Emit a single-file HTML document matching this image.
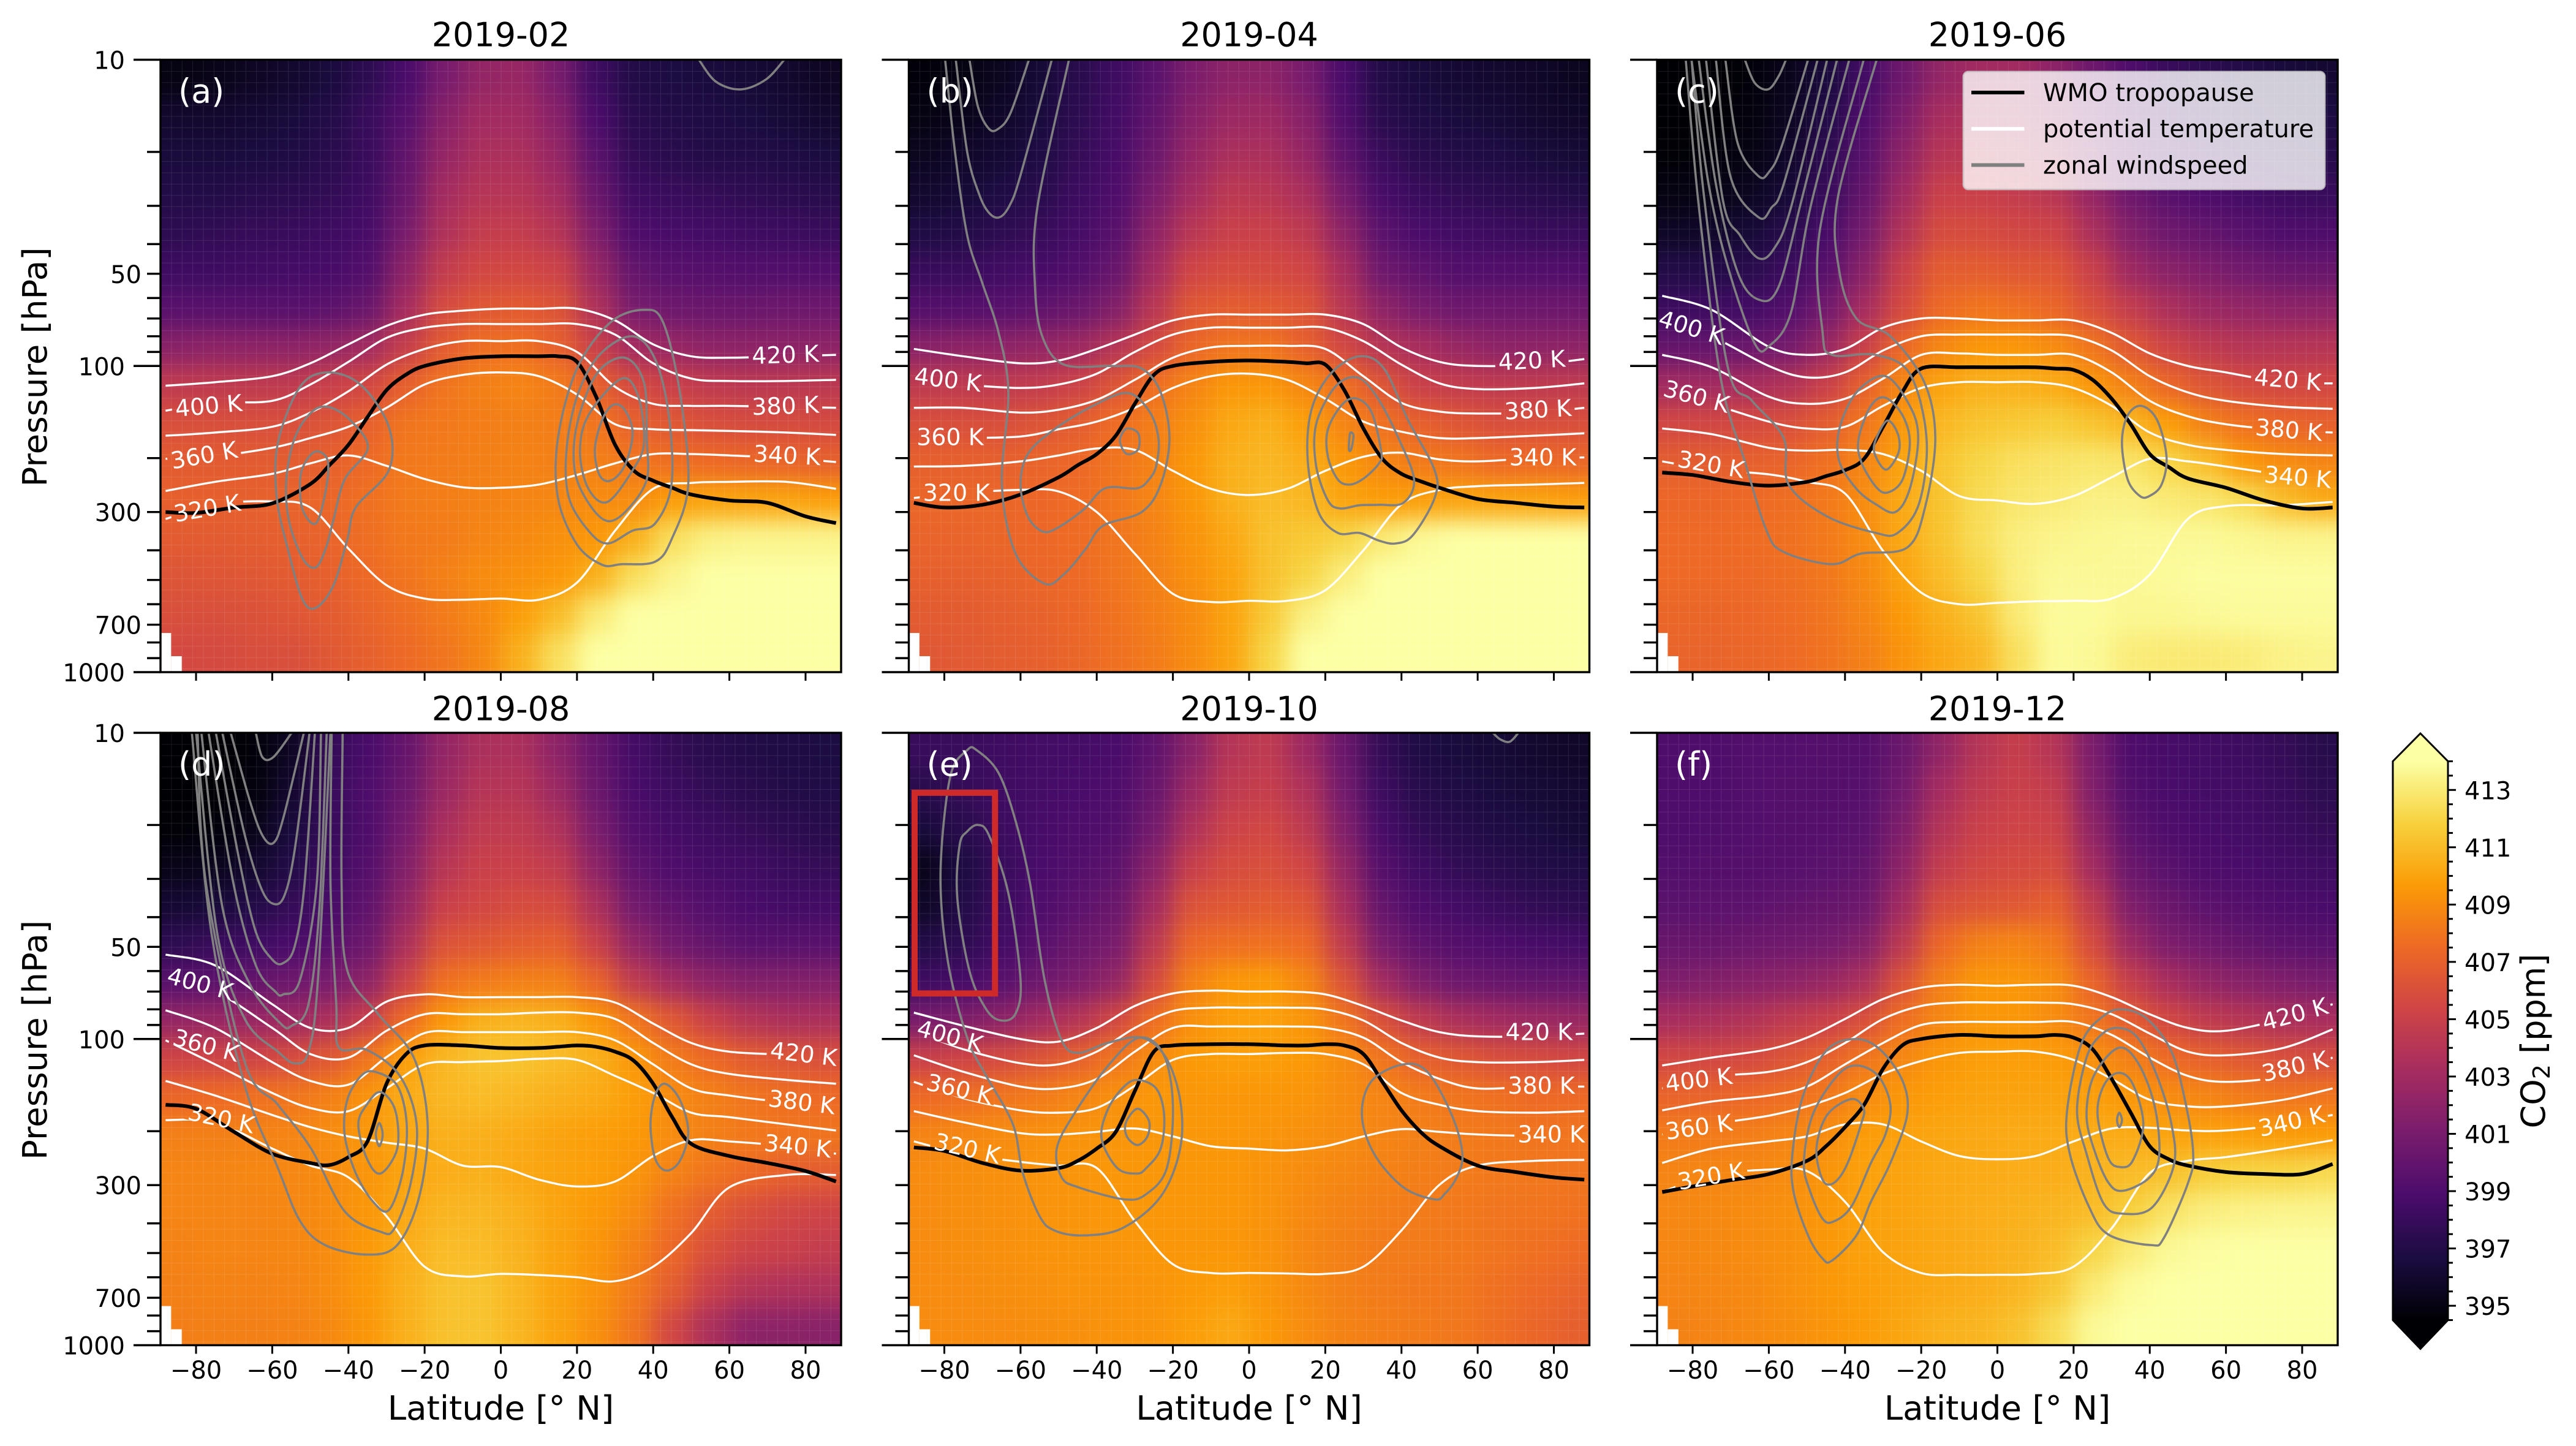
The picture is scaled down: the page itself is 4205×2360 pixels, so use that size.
<!DOCTYPE html>
<html lang="en">
<head>
<meta charset="utf-8">
<title>Zonal mean CO2 2019</title>
<style>
html,body{margin:0;padding:0;background:#fff;}
svg{display:block;font-family:"DejaVu Sans","Liberation Sans",sans-serif;}
</style>
</head>
<body>
<svg id="figure" xmlns="http://www.w3.org/2000/svg" width="4205" height="2360" viewBox="0 0 4205 2360"></svg>
<script>
/* ---------- shared axes ---------- */
const latitudes=[-85,-75,-65,-55,-45,-35,-25,-15,-5,5,15,25,35,45,55,65,75,85];
const pressureLevels=[11.5,15.4,20.5,27.4,36.5,48.7,64.9,86.6,115,154,205,274,365,487,649,866];
const latTicks=[-80,-60,-40,-20,0,20,40,60,80];
const pressureMajorTicks=[10,100,1000];
const pressureMinorTicks=[20,30,40,50,60,70,80,90,200,300,400,500,600,700,800,900];
const pressureLabelledMinor=[50,300,700];
const colorbarLabels=[395,397,399,401,403,405,407,409,411,413];
const colorbarMinorTicks=[394.5,395.5,396,396.5,397.5,398,398.5,399.5,400,400.5,401.5,402,402.5,403.5,404,404.5,405.5,406,406.5,407.5,408,408.5,409.5,410,410.5,411.5,412,412.5,413.5,414];
const thetaLats=[-88,-75,-60,-50,-40,-30,-20,-10,0,10,20,30,40,50,60,75,88];
const tropoLats=[-88,-80,-70,-60,-50,-45,-40,-35,-30,-25,-20,-10,0,10,15,20,25,30,35,40,45,50,60,70,80,88];
const missingLatEdges=[-89.33,-86.55,-83.75];
const missingPressures=[745,887];
const infernoStops=[[0,0,4],[27,12,65],[74,12,107],[120,28,109],[165,44,96],[207,68,70],[237,105,37],[251,155,6],[247,209,61],[252,255,164]];
const legendLabels=['WMO tropopause','potential temperature','zonal windspeed'];
const legendColors=['#000000','#ffffff','#808080'];

/* ---------- CO2 in ppm: rows follow pressureLevels, columns follow latitudes ---------- */
const co2Feb=[
[395,395.2,395.6,396,396.5,397.5,398.8,401,402.3,402.5,401,398.3,397,396.7,396.5,396.3,396,395.6],
[396,396,396.2,396.5,397,398,399.4,401.7,403,403,401.7,398.9,397.3,397,396.8,396.6,396.3,396],
[396.5,396.5,396.6,396.8,397.3,398,399.9,402.4,403.5,403.5,402.4,399.6,397.7,397.3,397,397,396.8,396.6],
[397,397,397.2,397.4,397.7,398.3,400.3,403.1,404,404,403.1,400.3,398.3,398,397.8,397.6,397.4,397.2],
[397.5,397.7,397.9,398,398.3,398.7,401,403.7,404.7,404.7,404,401.3,399,398.7,398.5,398.3,398.2,398],
[398.3,398.3,398.4,398.6,398.7,399.2,402,404.7,405.5,405.5,405.2,402.5,400,399.5,399.3,399.2,399.2,399.2],
[399.5,399.5,399.5,399.5,399.7,400.3,403.2,405.8,406.5,406.7,406.3,403.7,401,400.5,400.3,400.3,400.5,400.5],
[401.8,402,402,402,402.3,403,404.8,406.7,407.7,407.8,407,405,403,402.5,402,402,402,402],
[404.5,404.5,404.5,404.5,405,405.5,407,408,408.5,408.7,408.3,407,405.7,405,404.5,404.3,404.3,404.3],
[406,406,406,406,406.3,407,408,408.2,408.4,408.5,408.4,408,407,406.5,406,405.8,405.8,405.7],
[406.7,406.7,406.7,406.8,407,407.5,408.2,408.3,408.5,408.6,408.5,408.5,408,407.7,407.5,407.3,407.2,407],
[407,407,407,407.2,407.3,407.8,408.3,408.4,408.6,408.7,408.8,409,409,409.7,410,410,410,409.8],
[406.7,406.7,406.8,407,407.2,407.7,408.2,408.3,408.7,408.9,409.2,409.5,410.5,412.5,413.3,413.5,413.5,413.5],
[406.3,406.4,406.5,406.7,407,407.5,408,408.5,409,409.2,409.5,410.5,412.5,413.5,414,414,414,414],
[406,406,406.1,406.4,406.7,407.2,407.7,408.3,408.9,409.8,411,413,414,414,414,414,414,414],
[405.6,405.7,405.9,406,406.5,407,407.5,408,408.8,410.5,412.5,414,414,414,414,414,414,414]];
const co2Apr=[
[394.7,395,395.5,396.3,397.3,398.3,399.6,401.2,402,402,401,398.8,397,396.5,396.2,396,395.8,395.5],
[395,395.3,395.8,396.5,397.5,398.5,399.9,401.7,402.7,402.8,401.7,399.1,397.3,396.8,396.5,396.3,396,395.8],
[395.5,395.8,396.2,396.8,397.8,398.7,400.4,402.4,403.5,403.5,402.4,399.8,398,397.3,397,396.8,396.5,396.3],
[396,396.3,396.8,397.3,398.2,399,401.1,403.1,404.3,404.2,403.4,400.8,398.7,398,397.7,397.4,397.2,397],
[396.8,397,397.5,397.9,398.6,399.5,402,404.2,405,405,404.4,402,399.6,398.8,398.4,398.2,398,398],
[398,398,398.4,398.7,399.2,400.2,403,405.4,405.8,405.7,405.4,403.3,400.5,399.8,399.2,399.2,399.2,399.2],
[399.3,399.3,399.5,399.8,400.3,401.5,404.2,406.5,406.8,406.7,406.3,404.2,402,401,400.5,400.5,400.5,400.5],
[401.8,402,402,402.3,402.8,404,405.7,407.3,408,408,407,405.5,404,403.3,402.5,402,402,402],
[404.5,404.5,404.5,404.7,405.2,406.3,407.7,408.7,409.5,409.5,408.8,407.7,406.3,405,404.7,404.5,404.5,404.5],
[406,406,406,406.3,406.8,407.6,408.4,409.2,410.2,410.5,409.8,408.7,407.8,407,406.4,406,406,406],
[407,407,407,407.2,407.4,408,408.6,409.5,410.5,410.8,410.4,409.5,408.8,408.2,408,407.5,407.5,407.3],
[407.3,407.3,407.3,407.4,407.6,408.1,408.7,409.5,410.5,411,410.8,410,409.7,409.8,410,410,410,409.8],
[407.2,407.2,407.3,407.4,407.6,408,408.6,409.3,410.2,411.2,411.5,412,413,413.7,414,414,414,414],
[407,407,407.1,407.3,407.5,408,408.5,409.2,410,411.2,412,413.2,414,414,414,414,414,414],
[406.7,406.7,406.9,407.1,407.4,407.9,408.4,409,410,411.5,413.3,414,414,414,414,414,414,414],
[406.5,406.6,406.8,407,407.3,407.8,408.3,409,410,412,414,414,414,414,414,414,414,414]];
const co2Jun=[
[394.5,394.5,394.7,395.3,396.5,398.5,400.5,402.3,403,403,402,400.5,399,398,397.5,397,396.5,396.2],
[394.5,394.5,394.8,395.5,397,399,401.2,403.3,403.7,403.5,402.6,401,399.3,398.3,397.8,397.3,397,396.7],
[394.6,394.7,395,395.8,397.5,399.5,402,404.1,404.3,404,403.4,401.6,399.8,398.8,398.3,397.8,397.5,397.2],
[395,395.1,395.5,396.3,398,400,402.9,405,405,404.7,404.2,402.4,400.5,399.5,399,398.5,398.2,398],
[395.7,395.8,396.3,397.2,398.7,400.8,403.8,405.8,405.8,405.5,405.3,403.5,401.5,400.5,400,399.5,399,399],
[397,397,397.3,398.2,399.5,401.8,405,406.8,406.8,406.5,406.4,405,402.8,401.8,401.3,400.7,400.3,400.2],
[398.2,398.3,398.5,399.2,400.7,403.2,405.7,407.5,408,407.8,407.3,406,404.7,403.5,402.7,402.3,402,402],
[400,400,400.3,400.8,402.5,405,407.3,408.8,409.5,409.5,409,408,406.5,405.3,404.5,404,404,404],
[403,403,403.3,403.8,405,407,408.8,410,410.5,410.5,410.3,409.5,408.5,407.3,406.3,405.7,405.5,405.5],
[405.5,405.5,405.7,406,406.8,408,409.5,410.8,411.3,411.5,411.7,411.3,410.7,409.7,408.5,407.8,407.3,407],
[406.8,406.8,407,407.2,407.8,408.7,410,411.3,412,412.5,412.7,412.8,412.7,412,411,409.5,409,408.7],
[407.4,407.4,407.5,407.7,408.2,409,410.2,411.3,412.3,412.8,413,413.3,413.3,413,412.8,412.3,411,410.3],
[407.5,407.5,407.6,407.8,408.2,409,410.2,411.3,412.4,413.2,413.5,413.6,413.7,413.7,413.7,413.6,413.5,413.5],
[407.5,407.5,407.5,407.7,408.1,408.9,410,411,412,413.2,413.7,413.7,413.7,413.8,413.9,413.9,413.9,413.9],
[407.3,407.3,407.4,407.6,408,408.7,409.6,410.5,411.3,413,413.8,413.8,413.6,413.6,413.7,413.8,413.8,413.8],
[407.2,407.2,407.3,407.5,407.9,408.5,409.3,410.2,410.8,412.5,413.8,413.7,413.1,413,413,413.1,413.4,413.5]];
const co2Aug=[
[394.5,394.5,394.7,395.6,397.8,398.8,400.1,402.3,403.5,403.5,402,400.1,398.6,397.8,397.3,397,396.8,396.7],
[394.5,394.5,394.8,396,398,399,400.4,402.7,404,404,402.7,400.4,398.8,398.2,397.7,397.3,397,396.9],
[394.6,394.7,395.2,396.5,398,399,400.9,403.4,404.5,404.5,403.7,401.1,399.2,398.6,398.2,397.8,397.5,397.2],
[395.2,395.4,396,397,398.3,399.3,401.5,404.1,405,405,404.6,402,399.8,399,398.6,398.4,398,397.8],
[396.2,396.4,397,397.8,398.7,399.8,402.3,405,405.5,405.8,405.7,403.5,400.7,399.8,399.2,398.8,398.5,398.5],
[397.5,398,398.3,398.8,399.5,400.5,403.5,406.2,406.5,406.8,406.9,405,402.2,400.7,400,399.5,399.5,399.5],
[399.5,399.7,400,400.5,401,402,405.2,407.8,408.3,408.5,408.5,407.2,404.5,403,402,401.5,401.5,401.5],
[402.3,402.5,402.5,402.8,403.5,405,407.5,409.5,410.5,410.7,410.5,409.5,408,406.5,405,404,403.5,403.5],
[405.3,405.3,405.3,405.8,406.5,408,409.8,410.8,411.3,411.3,411,410.5,409.5,408.3,407.5,406.7,406.3,406],
[407.3,407.5,407.8,408,408.5,409.3,410.3,410.8,411,410.8,410.5,410.3,409.8,409,408.5,408,407.7,407.5],
[408.5,408.5,408.6,408.7,409,409.5,410.2,410.5,410.5,410.3,410,409.8,409.6,409,408.5,408.2,408,408],
[408.7,408.7,408.8,408.8,409,409.4,410,410.4,410.5,410.2,410,409.8,409.4,408.6,408,407.5,407,406.8],
[408.7,408.7,408.7,408.8,409,409.5,410.2,410.7,410.8,410.5,410,409.6,409,407.8,406.8,406,405.5,405.3],
[408.6,408.7,408.7,408.8,409,409.6,410.4,411,411,410.6,410,409.4,408.6,407.4,406,405.3,405,404.7],
[408.5,408.6,408.6,408.7,409,409.6,410.5,411.2,411.3,410.7,410,409.3,408.3,406.8,405,404,403.7,403.7],
[408.4,408.5,408.5,408.6,408.9,409.5,410.5,411.2,411.3,410.7,410,409.2,408,405.5,403.5,402,402,401.8]];
const co2Oct=[
[398,398,398.3,398.5,398.6,398.8,399.8,401.8,404,404.5,402.8,400.3,397.8,396.8,396.5,396.3,396,395.8],
[397.3,397.8,398.3,398.6,398.8,399,400.2,402.7,404.5,404.8,403.7,400.7,398.2,397.2,396.8,396.5,396.3,396.1],
[396.5,397.3,398.2,398.7,399,399.2,400.8,403.7,405.2,405.5,404.4,401.4,398.7,397.7,397.2,396.8,396.6,396.3],
[395.3,396.7,398,398.8,399.2,399.7,401.8,404.9,405.8,406,405.4,402.3,399.3,398.3,397.7,397.3,397,396.8],
[395.7,397,398.2,399,399.7,400.3,403,406.2,406.5,406.7,406.4,403.3,400,399,398.5,398,397.7,397.5],
[397,397.5,398.5,399.5,400.3,401,404.3,407.4,407.7,407.8,407.5,404.5,401,399.8,399.3,399,398.7,398.5],
[398.3,398.7,399.5,400.5,401.2,402.3,405.7,408.6,409.5,409.7,408.8,406.2,403,401.3,400.5,400.2,400,400],
[401,401.3,402,403,404,405.5,407.7,409.2,409.8,409.9,409.4,408,406,404.5,403.5,403,402.7,402.5],
[405,405.3,405.7,406.3,407,408,409,409.6,409.8,409.8,409.6,409,408,407,406.5,406,405.8,405.5],
[407.5,407.7,408,408.3,408.7,409.2,409.5,409.5,409.5,409.5,409.4,409,408.7,408.3,408,407.8,407.5,407.5],
[408.7,408.8,409,409.2,409.3,409.4,409.5,409.5,409.5,409.4,409.2,409,408.7,408.5,408.3,408.2,408,408],
[409,409.1,409.2,409.3,409.4,409.5,409.5,409.5,409.5,409.3,409,408.8,408.6,408.4,408.3,408.2,408.1,408],
[409,409.1,409.2,409.3,409.4,409.5,409.5,409.5,409.5,409.3,408.9,408.6,408.4,408.3,408.2,408,408,407.9],
[409,409.1,409.2,409.3,409.4,409.4,409.5,409.5,409.5,409.3,408.8,408.5,408.3,408.3,408.2,408,407.8,407.6],
[409,409,409.1,409.2,409.3,409.3,409.4,409.6,409.8,409.4,408.9,408.5,408.3,408.2,408.1,407.8,407.5,407.2],
[409,409,409,409.1,409.2,409.3,409.4,409.8,410.2,409.6,409,408.6,408.4,408.3,408.1,407.7,407.3,407]];
const co2Dec=[
[399,399,399.2,399.2,399.3,399.3,400.3,402.2,404,404.8,404,401.1,399,398.7,398.5,398.2,397.8,397.2],
[399,399,399.2,399.3,399.3,399.4,400.7,403.2,404.5,405,404.7,401.4,399.2,398.8,398.6,398.4,398,397.5],
[399,399.1,399.2,399.3,399.4,399.6,401.3,403.9,405,405.3,405.2,402.1,399.7,399,398.8,398.5,398.2,397.8],
[399.2,399.3,399.3,399.4,399.6,399.9,402,404.7,405.5,405.7,405.8,403,400.3,399.5,399,398.8,398.5,398.3],
[399.6,399.7,399.7,399.9,400.1,400.5,403,405.9,406.3,406.5,406.9,404.5,401.3,400.3,399.7,399.3,399,398.8],
[400.2,400.2,400.4,400.6,400.8,401.5,404.3,407.4,408.5,408.7,408.2,405.7,402.7,401.2,400.6,400,399.7,399.5],
[401.3,401.5,401.7,402,402.5,403.5,406.2,408.5,409.5,409.5,409.1,407.2,404.8,403.3,402.3,401.7,401.3,401],
[403.3,403.5,403.8,404.5,405,406,407.7,408.8,409.5,409.5,409,408,406.7,405.5,404.5,404,403.5,403.3],
[405.5,405.5,405.7,406.3,407,408,408.8,409.5,409.8,409.8,409.7,409.2,408.5,407.5,407,406.5,406,405.8],
[407.2,407.2,407.4,407.7,408.2,409,409.5,409.8,410,410,410,409.8,409.5,409,408.7,408.3,408,408],
[408.3,408.3,408.4,408.7,409,409.7,409.9,410.1,410.2,410.3,410.3,410.3,410.3,410,409.9,409.8,409.7,409.7],
[408.7,408.8,408.8,409,409.4,409.9,410,410.2,410.3,410.4,410.4,410.6,411,411.2,411.7,412,412,412.2],
[408.8,408.9,409,409.2,409.5,409.9,410,410.2,410.4,410.5,410.7,411,411.8,412.7,413.2,413.4,413.5,413.5],
[408.8,408.9,409,409.2,409.5,409.9,410,410.2,410.4,410.6,411,412,413,413.7,413.9,414,414,414],
[408.7,408.8,408.9,409.2,409.5,409.8,410,410.2,410.4,410.7,411.4,413,413.8,414,414,414,414,414],
[408.6,408.7,408.9,409.1,409.4,409.7,410.1,410.5,410.7,411.2,412.3,413.7,414,414,414,414,414,414]];

/* ---------- potential temperature isolines: pressure (hPa) at thetaLats, levels 420..320 K ---------- */
const thetaFeb=[
[116,113,108,98,85,74,68,66,65,65,65,71,85,93,94,93,92],
[140,132,130,115,97,81,75,73,73,73,73,79,98,110,112,112,111],
[169,165,158,142,121,99,88,83,83,83,90,117,133,135,135,136,137],
[201,197,185,172,158,137,115,107,105,108,124,155,161,162,163,165,168],
[256,239,225,208,196,212,234,249,250,244,227,208,194,194,196,200,206],
[316,283,277,290,395,520,575,580,575,580,510,345,252,241,239,239,252]];
const thetaApr=[
[88,93,98,96,88,79,71,68,68,68,68,73,87,97,100,99,95],
[110,115,118,115,106,90,79,75,75,75,75,83,99,114,119,118,114],
[137,137,142,139,129,111,94,87,86,86,88,108,132,141,143,142,137],
[172,172,170,161,152,137,118,108,106,111,128,152,164,172,172,169,166],
[213,212,205,196,186,188,220,252,264,252,220,198,192,202,205,200,199],
[270,260,254,257,300,410,555,590,585,585,540,400,283,254,247,244,241]];
const thetaJun=[
[59,65.6,86.6,92,88,75,70,70,71,71,71,78,91,100,105,113,114],
[69,80,100,109,105,89,80,79,79,79,80,89,108,122,130,136,138],
[92,101,126,133,128,110,92,91,92,92,92,105,130,146,155,162,165],
[119,133,152,160,158,135,118,113,113,113,118,135,165,181,188,194,196],
[160,167,185,189,188,194,220,266,275,282,266,231,201,205,213,227,238],
[205,218,226,239,261,402,550,600,594,587,585,575,480,316,287,285,278]];
const thetaAug=[
[53,57.5,77,92,92,75.5,71.5,73,73,73,73,76,89,103,110,113,119],
[64,70,92,112,115,94,83,83,83,82,82,86,103,121,130,136,140],
[80.6,92,119,137,141,114.6,95.6,95,95,95,95,101,121,145,153,161,166],
[101,121,150,168,172,145,121,119,118,116,117,132,150,174,180,190,199],
[137,153,177,194,208,218,228,259,262,288,303,292,241,214,216,224,237],
[184,187,228,259,283,379,554,596,585,590,600,618,554,430,305,278,278]];
const thetaOct=[
[82,90.5,100,102,92,78,71,69.5,70,70,71.5,78,87,95,98,98,96],
[94,108,120,121,110,92,81,79,79,79,80,87,103,115,119,119,117],
[113,128,143,145,135,110,92,91,91,91,92,99,119,135,145,143,143],
[138,156,171,174,168,142,117,112,112,111,112,121,150,164,172,174,172],
[172,187,203,205,201,196,208,224,228,231,224,208,197,201,205,207,205],
[216,237,252,259,264,393,544,581,581,583,585,554,422,299,259,250,248]];
const thetaDec=[
[122,115,108,99,86,74,68,66.5,67,66.5,67,73,83,92,94,86,77],
[145,133,128,119,103,86,78,76,76,76,77,83,96,110,113,107,93],
[171,160,153,143,121,103,90,88,88,88,88,97,115,132,138,132,115],
[205,190,178,166,150,130,118,111,110,110,117,135,158,166,166,158,145],
[254,228,216,208,190,190,216,241,247,241,216,196,195,199,199,190,177],
[316,278,267,270,340,497,581,589,589,585,554,415,274,250,243,228,214]];

/* ---------- WMO tropopause: pressure (hPa) at tropoLats ---------- */
const tropoFeb=[300,302,290,281,243,211,181,147,120,107,100,94.5,93,93,93,97,126,181,220,237,250,263,275,280,310,326];
const tropoApr=[280,290,284,263,231,211,194,169,133,107,100,97,96,97,98,99,120,160,201,225,238,250,272,280,288,290];
const tropoJun=[223,227,239,246,239,229,219,201,158,122,102,101,101,101,102,103,111,128,155,194,214,233,250,275,292,290];
const tropoAug=[164,169,201,237,254,258,243,216,140,112.5,105,105,107,107,106,105,106,110,118,140,180,220,241,254,270,292];
const tropoOct=[226,232,254,269,264,250,228,201,148,110,105,104,104,105,105,104,105,112,138,171,201,224,259,272,283,288];
const tropoDec=[316,303,289,276,250,224,194,164,125,105,100,97,98,98,97,99,108,135,174,224,247,259,272,276,276,256];

/* ---------- zonal wind contours: each entry is [latitudes, pressures (hPa)] ---------- */
const windFeb=[
[[52,56.5,63,69.6,74.4],[10,11.8,12.5,11.6,10]],
[[-45.4,-36.7,-29.4,-29.4,-38.1,-40.3,-44,-48.6,-52,-55.6,-58.8,-58.5,-52.7],[105,115.5,158,219,290,369,523,617,580,410,270,178,117]],
[[-45.4,-39.6,-34.9,-41,-44,-46,-48.6,-52,-55.6,-56.3,-54.1,-49.8],[136,150,185,235,321,396,455,425,321,235,172,142]],
[[-48.3,-45.4,-46.1,-48.6,-52,-52.7,-51.2],[190,205,261,327,295,235,205]],
[[37.6,42.6,47,49.2,44.8,40.5,31.7,26.6,20,15,15,20,28.8],[65.6,72,122,244,369,436,444,446,383,270,172,102,72]],
[[34.6,40.5,44.1,44.8,40.5,34.6,28,23,17.9,17.2,20,25.9],[80,95,145,244,327,345,380,345,270,191,126,92]],
[[32.5,37.6,38.3,38.3,33.2,28,23,19.4,20,25.2],[94,113.5,172,235,295,321,280,219,155,106]],
[[31.7,36.1,37.6,34.6,28,23,20.8,23],[110,126,178,219,278,252,191,145]],
[[29.5,32.5,34.6,32.5,28.8,25.9,24.7,26.6],[134,139,166,212,237,227,187,150]]];
const windApr=[
[[-73.4,-71.2,-68.3,-65.8,-62.6,-57.8],[10,14.2,16.8,16.8,14.9,10]],
[[-77,-74,-70.9,-68.3,-65.5,-62.8,-60,-51.8],[10,20,27.4,31.6,32.7,29.8,23.8,10]],
[[-79.8,-77.2,-74,-70.2,-65.8,-63.2,-64.9,-61.3,-53.7,-48.6,-42.9,-38.4,-28.2,-23.2,-20.9,-23.2,-28.2,-35.9,-48.6,-54.3,-56.2,-55.6,-47.3],[10,20,37.4,52.9,77.5,122,244,410,514,479,396,333,300,244,172,122,102,100,99,80,55,30.4,10]],
[[-32,-26.3,-23.8,-24.4,-26.3,-29.5,-37.8,-43.5,-50.5,-54.3,-58.1,-60,-58.1,-51.1,-41],[122.5,140,172,212,235,251,251,295,339,347,310,244,194,161,135]],
[[-32,-29.1,-29.1,-32,-33.7,-33.7],[160,166,187,194,181,170]],
[[29,35.4,41.7,48.7,48.7,43,38.5,34.1,29,23.3,18.2,15.4,16.3,21.4],[93,102,150,219,270,357,380,372,351,351,300,205,140,106]],
[[28.4,33.5,39.2,43.3,40.5,34.1,29,23.9,20.7,17.6,17.6,22.6],[109,126,172,235,280,284,285,292,275,212,155,117]],
[[28.4,32.2,34.7,34.1,30.3,26.5,23.3,20.7,20.7,24.6],[128,142,191,208,232,244,235,198,161,133]],
[[26.5,27.4,26.8,26.2],[166,169,187,187]]];
const windJun=[
[[-66.3,-63.7,-60.2,-57.4,-55.5],[10,11.9,12.5,11.3,10]],
[[-71.4,-68.2,-62.7,-59.9,-56.7,-49.7],[10,18.7,24,23.2,19.3,10]],
[[-73.9,-70.1,-62.7,-59.3,-56.1,-47.2],[10,24,32.7,30.4,25.5,10]],
[[-76.5,-72,-67.6,-62.7,-58.7,-54.2,-44.7],[10,29,37.4,44.5,41.5,30.4,10]],
[[-78.4,-73.9,-68.2,-62.7,-57.4,-51,-42.1],[10,25.5,49.4,60.7,55,27.4,10]],
[[-80.3,-75.8,-70.7,-63.7,-59.9,-54.2,-49.1,-38.9],[10,25.5,47.7,84.5,86,67,30.4,10]],
[[-81.8,-78.4,-72.6,-66.3,-60.6,-56.1,-43.4,-35.8,-23.7,-19,-16.3,-19.2,-28.1,-37,-41.5,-41.9,-31.7],[10,30,110,205,345,405,444,410,392,290,172,113,80,70,49,28.3,10]],
[[-80.3,-77.1,-70.7,-64.4,-56.1,-54.8,-44.7,-31.9,-26.2,-20.5,-18.6,-23,-31.9,-43.4,-45.9,-46.6,-35.1],[10,27.4,102,130,172,244,310,351,351,280,172,106,92,92,77.5,36,10]],
[[-29.4,-23,-20.8,-23,-26.8,-31.9,-37,-41.5,-41.5,-37],[108,135,172,252,300,283,252,205,161,122]],
[[-29.4,-24.9,-23,-24.9,-28.8,-31.9,-35.8,-36.4,-33.2],[127,145,178,235,259,248,205,172,135]],
[[-29,-26.2,-25.9,-29.1,-31.9,-32.2],[151,166,191,218,198,178]],
[[37.8,41.9,44.4,43.1,39.9,37.4,34.2,32.7,34.2],[135,150,198,244,266,266,235,178,145]]];
const windAug=[
[[-64.3,-62.6,-59.7,-54.9],[10,12,12,10]],
[[-70.9,-65.8,-62.6,-59.7,-57.1,-51.7],[10,16.8,21.6,22.9,19,10]],
[[-73.1,-67.2,-62.9,-59.7,-56.8,-54.1,-50.2],[10,21.6,32.2,36.2,34,24.1,10]],
[[-74.8,-68.7,-64.3,-60,-57.1,-54.1,-51.5,-48.8],[10,25.9,44.7,55,56.5,49.8,31,10]],
[[-76.7,-70.2,-64.3,-59.2,-57.1,-52.7,-48.3,-47.2],[10,31,57.5,70,71.5,64,31,10]],
[[-78.6,-73.1,-65.8,-57.8,-54.9,-50.5,-47.6,-45.7],[10,37,66.5,89,90.5,77,37,10]],
[[-80,-74.5,-67.2,-58.5,-54.1,-50.5,-48,-44.7],[10,44.7,86,110,120,110,64,10]],
[[-41.5,-41.8,-40.3,-32.3,-22.9,-19.2,-21.4,-27.2,-35.2,-46.1,-52.7,-58.5,-67.2,-76,-81.1],[10,31,59.7,82.6,114.6,190,327,471,506,471,393,264,142,44.7,10]],
[[-44.4,-44.7,-43.2,-42.5,-35.2,-26.5,-22.1,-23.6,-27.9,-31.6,-41,-49.8,-58.5,-67.2,-77.4,-79.6],[10,31,77,106.7,108.5,132,190,294,415,426,365,228,164,119,31,10]],
[[-33,-27.2,-24.7,-25.8,-29.4,-33.5,-38.1,-41,-40.3,-36.7],[128,142,190,274,362,340,274,205,158,132]],
[[-31.6,-27.7,-27.2,-31.6,-35.2,-37.4,-35.2],[149,171,228,275,245,190,164]],
[[-31.9,-31,-31.9,-32.8],[188,205,224,205]],
[[43.1,47,49.2,47,43.4,40.5,39.3,40.5],[140,158,201,250,269,245,190,153]]];
const windOct=[
[[64,65.9,68.4,70.7],[10,10.5,10.7,10]],
[[-74,-78.5,-81,-79.1,-74,-69,-62,-59.4,-55,-51.1,-43.5,-33.3,-23.2,-18.1,-18.1,-21.9,-28.2,-37.2,-44.8,-49.2,-53.7,-57.5,-61.3,-65.8,-71.5],[11.4,14,28.9,55.5,99,132,190,274,379,422,438,415,327,228,158,114.6,99,103,111,101,64,31,19.4,13.5,11.4]],
[[-71.2,-68.3,-63.2,-60,-61.3,-65.1,-69,-73.4,-76.6,-76,-74],[20,21.6,33.4,64,82.6,87,80,60,34.7,23.3,21]],
[[-28.9,-22.5,-20,-21.6,-27,-32.7,-44.8,-49.2,-50.5,-46.1,-37.2],[99,112,164,264,321,334,305,283,228,177,123]],
[[-29.5,-24.4,-22.3,-23.2,-27,-29.5,-34.6,-38.7,-37.2,-33.3],[136,145,177,228,264,275,264,212,171,145]],
[[-29.3,-26.3,-26.7,-29.3,-32.1,-32.3],[169,185,208,222,208,187]],
[[40.5,46.8,53.2,56,54.5,51.3,48.7,40.5,32.8,29.6,32.2],[121,128,177,237,283,321,334,305,237,177,137]]];
const windDec=[
[[-37,-30.7,-24.9,-23.7,-28.1,-33.2,-37,-43.4,-45.9,-49.7,-53.5,-53.8,-51,-44.7],[100,108.5,137,177,254,340,438,529,521,438,316,237,153,108.5]],
[[-37,-31.3,-28.1,-29.4,-33.2,-38.3,-43.1,-45.9,-49.1,-50.8,-48.5,-42.1],[122,132,164,205,254,352,395,386,316,254,177,132]],
[[-38.3,-35.1,-35.8,-39.6,-43.1,-45.9,-47.5,-44.7],[157,169,190,259,296,288,228,177]],
[[33,39.3,45.7,49.5,51.4,50.1,43.8,40.3,29.1,24,19,18.3,22.1,27.9],[80,86,110,164,237,294,444,471,435,352,237,171,103,84]],
[[31.7,36.8,41.9,45.7,46.3,40.6,33,27.9,23.4,20.9,23.4,27.2],[92,99,132,190,259,355,372,345,237,171,115,97]],
[[31.7,36.8,41.2,42.5,40,33,29.1,25.3,23.4,25.3],[107,119,164,237,283,313,294,228,177,132]],
[[31.7,35.5,38.3,35.5,32.3,29.1,26.3,27.9],[129,140,190,250,262,245,177,142]],
[[32,32.7,32,31.4],[174,184,194,184]]];

/* ---------- isoline labels: text, latitude, pressure, rotation (deg) ---------- */
const labelsFeb=[['400 K',-76.7,135,-5],['360 K',-77.9,196,-10],['320 K',-77.1,292,-10],['420 K',74.7,92,-2],['380 K',74.7,135,-2],['340 K',75.1,196,3]];
const labelsApr=[['400 K',-79.1,111,7],['360 K',-78.5,171,0],['320 K',-76.8,260,0],['420 K',74.2,96,-3],['380 K',75.8,139,-3],['340 K',77.1,199,0]];
const labelsJun=[['400 K',-80.3,75,17],['360 K',-79,126,15],['320 K',-75.2,210,10],['420 K',76.2,111,5],['380 K',76.5,162,5],['340 K',78.8,231,5]];
const labelsAug=[['400 K',-78.9,66,15],['360 K',-77.4,105,15],['320 K',-73.4,182,12],['420 K',79.5,112,7],['380 K',79,161,7],['340 K',77.9,224,6]];
const labelsOct=[['400 K',-78.5,98,15],['360 K',-76,146,13],['320 K',-74,228,13],['420 K',76.1,95,0],['380 K',76.7,142,0],['340 K',79.3,205,0]];
const labelsDec=[['400 K',-78.4,136,-7],['360 K',-78.4,194,-8],['320 K',-75.2,281,-10],['420 K',78.1,83,-15],['380 K',78.1,123,-13],['340 K',77.2,186,-13]];
const studyBoxLats=[-87.8,-66.7];
const studyBoxPressures=[15.7,71];

const titles=['2019-02','2019-04','2019-06','2019-08','2019-10','2019-12'];
const letters=['(a)','(b)','(c)','(d)','(e)','(f)'];
const co2Sets=[co2Feb,co2Apr,co2Jun,co2Aug,co2Oct,co2Dec];
const thetaSets=[thetaFeb,thetaApr,thetaJun,thetaAug,thetaOct,thetaDec];
const tropoSets=[tropoFeb,tropoApr,tropoJun,tropoAug,tropoOct,tropoDec];
const windSets=[windFeb,windApr,windJun,windAug,windOct,windDec];
const labelSets=[labelsFeb,labelsApr,labelsJun,labelsAug,labelsOct,labelsDec];

/* ---------- helpers ---------- */
const NS='http://www.w3.org/2000/svg';
const svg=document.getElementById('figure');
const plotW=1111, plotH=999.5, latMin=-89.33, latMax=89.33, cmin=394.5, cmax=414;
const panelLefts=[262,1483.5,2705], panelTops=[97.5,1196];
function el(tag,attrs,parent){
  const n=document.createElementNS(NS,tag);
  for(const k in attrs){n.setAttribute(k,attrs[k]);}
  if(parent){parent.appendChild(n);}
  return n;
}
function xScale(left,lat){return left+(lat-latMin)/(latMax-latMin)*plotW;}
function yScale(top,p){return top+(Math.log10(p)-1)/2*plotH;}
function inferno(v){
  const t=Math.max(0,Math.min(1,(v-cmin)/(cmax-cmin)))*(infernoStops.length-1);
  const i=Math.min(infernoStops.length-2,Math.floor(t)),f=t-i;
  const a=infernoStops[i],b=infernoStops[i+1];
  return 'rgb('+[0,1,2].map(c=>Math.round(a[c]+(b[c]-a[c])*f)).join(',')+')';
}
function smoothPath(pts,closed){
  const n=pts.length;
  const at=i=>closed?pts[(i+n)%n]:pts[Math.max(0,Math.min(n-1,i))];
  let d='M'+pts[0][0].toFixed(1)+' '+pts[0][1].toFixed(1);
  const segs=closed?n:n-1;
  for(let i=0;i<segs;i++){
    const p0=at(i-1),p1=at(i),p2=at(i+1),p3=at(i+2);
    const c1=[p1[0]+(p2[0]-p0[0])/6,p1[1]+(p2[1]-p0[1])/6];
    const c2=[p2[0]-(p3[0]-p1[0])/6,p2[1]-(p3[1]-p1[1])/6];
    d+='C'+c1[0].toFixed(1)+' '+c1[1].toFixed(1)+' '+c2[0].toFixed(1)+' '+c2[1].toFixed(1)+' '+p2[0].toFixed(1)+' '+p2[1].toFixed(1);
  }
  return d+(closed?'Z':'');
}
const defs=el('defs',{},svg);
const blur=el('filter',{id:'cell-blur',filterUnits:'userSpaceOnUse',x:0,y:0,width:4205,height:2360,'color-interpolation-filters':'sRGB'},defs);
el('feGaussianBlur',{stdDeviation:19},blur);

/* ---------- panels ---------- */
titles.forEach(function(title,idx){
  const left=panelLefts[idx%3], top=panelTops[idx<3?0:1], right=left+plotW, bottom=top+plotH;
  const X=lat=>xScale(left,lat), Y=p=>yScale(top,p);
  const panel=el('g',{},svg);
  
  

  const clip=el('clipPath',{id:'clip'+idx},defs);
  el('rect',{x:left,y:top,width:plotW,height:plotH},clip);

  const pat=el('pattern',{id:'grid'+idx,patternUnits:'userSpaceOnUse',x:left,y:top,width:17.36,height:18.4},defs);
  el('path',{d:'M0 0V18.4M0 0H17.36',stroke:'#fff','stroke-opacity':'0.1','stroke-width':'2',fill:'none'},pat);

  const plot=el('g',{'clip-path':'url(#clip'+idx+')'},panel);
  
  

  /* heatmap */
  const heat=el('g',{filter:'url(#cell-blur)'},plot);
  
  
  const grid=co2Sets[idx];
  pressureLevels.forEach(function(p,r){
    const logs=pressureLevels.map(Math.log10);
    const y0=r===0?top-80:Y(Math.pow(10,(logs[r-1]+logs[r])/2));
    const y1=r===pressureLevels.length-1?bottom+80:Y(Math.pow(10,(logs[r]+logs[r+1])/2));
    latitudes.forEach(function(lat,c){
      const x0=c===0?left-80:X(lat-5);
      const x1=c===latitudes.length-1?right+80:X(lat+5);
      const cell=el('rect',{x:x0.toFixed(1),y:y0.toFixed(1),width:(x1-x0+0.6).toFixed(1),height:(y1-y0+0.6).toFixed(1),fill:inferno(grid[r][c])},heat);
      
      
    });
  });
  const gridOverlay=el('rect',{x:left,y:top,width:plotW,height:plotH,fill:'url(#grid'+idx+')'},plot);
  
  

  /* missing cells below the surface */
  missingPressures.forEach(function(p,i){
    const x0=i===0?X(missingLatEdges[0])-2:X(missingLatEdges[i]);
    const x1=X(missingLatEdges[i+1]);
    const miss=el('rect',{x:x0,y:Y(p),width:x1-x0,height:bottom-Y(p),fill:'#fff'},plot);
    
    
  });

  /* label gaps */
  const mask=el('mask',{id:'gap'+idx,maskUnits:'userSpaceOnUse',x:left,y:top,width:plotW,height:plotH},defs);
  el('rect',{x:left,y:top,width:plotW,height:plotH,fill:'#fff'},mask);
  labelSets[idx].forEach(function(l){
    const lx=X(l[1]),ly=Y(l[2]);
    el('rect',{x:lx-60,y:ly-13,width:120,height:26,fill:'#000',transform:'rotate('+l[3]+' '+lx+' '+ly+')'},mask);
  });

  /* potential temperature */
  const thetaGroup=el('g',{mask:'url(#gap'+idx+')',fill:'none',stroke:'#fff','stroke-width':'3.4'},plot);
  
  
  thetaSets[idx].forEach(function(series){
    const pts=series.map((p,i)=>[X(thetaLats[i]),Y(p)]);
    const line=el('path',{d:smoothPath(pts,false)},thetaGroup);
    
    
  });

  /* tropopause */
  const tropoPts=tropoSets[idx].map((p,i)=>[X(tropoLats[i]),Y(p)]);
  const tropo=el('path',{d:smoothPath(tropoPts,false),fill:'none',stroke:'#000','stroke-width':'6','stroke-linejoin':'round'},plot);
  
  

  /* wind */
  const windGroup=el('g',{fill:'none',stroke:'#808080','stroke-width':'3.6'},plot);
  
  
  windSets[idx].forEach(function(c){
    const pts=c[0].map((lat,i)=>[X(lat),Y(c[1][i])]);
    const closed=c[1][0]>10;
    const line=el('path',{d:smoothPath(pts,closed)},windGroup);
    
    
  });

  /* isoline labels */
  labelSets[idx].forEach(function(l){
    const lx=X(l[1]),ly=Y(l[2]);
    const t=el('text',{x:lx,y:ly+13,fill:'#fff','font-size':'38','text-anchor':'middle',transform:'rotate('+l[3]+' '+lx+' '+ly+')'},plot);
    
    
    t.textContent=l[0];
  });

  /* study box */
  if(idx===4){
    const box=el('rect',{x:X(studyBoxLats[0]),y:Y(studyBoxPressures[0]),width:X(studyBoxLats[1])-X(studyBoxLats[0]),height:Y(studyBoxPressures[1])-Y(studyBoxPressures[0]),fill:'none',stroke:'#cf2a2a','stroke-width':'10'},plot);
    
    
  }

  /* panel letter */
  const letter=el('text',{x:left+29,y:top+70,fill:'#fff','font-size':'54'},panel);
  
  
  letter.textContent=letters[idx];

  /* spine */
  const spine=el('rect',{x:left,y:top,width:plotW,height:plotH,fill:'none',stroke:'#000','stroke-width':'3.4'},panel);
  
  

  /* title */
  const ttl=el('text',{x:left+plotW/2,y:idx<3?75.5:1175.5,'font-size':'54','text-anchor':'middle',fill:'#000'},panel);
  
  
  ttl.textContent=title;

  /* x ticks */
  latTicks.forEach(function(lat){
    const tick=el('line',{x1:X(lat),x2:X(lat),y1:bottom,y2:bottom+14,stroke:'#000','stroke-width':'3'},panel);
    
    
    if(idx>=3){
      const lab=el('text',{x:X(lat),y:2250,'font-size':'40','text-anchor':'middle',fill:'#000'},panel);
      
      
      lab.textContent=String(lat).replace('-','\u2212');
    }
  });
  if(idx>=3){
    const xl=el('text',{x:left+plotW/2,y:2317,'font-size':'54.5','text-anchor':'middle',fill:'#000'},panel);
    
    
    xl.textContent='Latitude [\u00b0 N]';
  }

  /* y ticks */
  pressureMajorTicks.forEach(function(p){
    const tick=el('line',{x1:left-44,x2:left,y1:Y(p),y2:Y(p),stroke:'#000','stroke-width':'3.4'},panel);
    
    
    if(idx%3===0){
      const lab=el('text',{x:left-58,y:Y(p)+15,'font-size':'40','text-anchor':'end',fill:'#000'},panel);
      
      
      lab.textContent=String(p);
    }
  });
  pressureMinorTicks.forEach(function(p){
    const tick=el('line',{x1:left-22,x2:left,y1:Y(p),y2:Y(p),stroke:'#000','stroke-width':'3.4'},panel);
    
    
    if(idx%3===0&&pressureLabelledMinor.indexOf(p)>=0){
      const lab=el('text',{x:left-31,y:Y(p)+15,'font-size':'40','text-anchor':'end',fill:'#000'},panel);
      
      
      lab.textContent=String(p);
    }
  });
  if(idx%3===0){
    const cy=top+501.5;
    const yl=el('text',{x:76,y:cy,'font-size':'54.5','text-anchor':'middle',fill:'#000',transform:'rotate(-90 76 '+cy+')'},panel);
    
    
    yl.textContent='Pressure [hPa]';
  }

  /* legend */
  if(idx===2){
    const legend=el('g',{},panel);
    
    
    const bg=el('rect',{x:3205,y:117,width:590,height:192,rx:8,ry:8,fill:'#fff','fill-opacity':'0.8',stroke:'#cccccc','stroke-opacity':'0.8','stroke-width':'3'},legend);
    
    
    legendLabels.forEach(function(txt,i){
      const ly=151+59.2*i;
      const sw=el('line',{x1:3218,x2:3304.5,y1:ly,y2:ly,stroke:legendColors[i],'stroke-width':'6'},legend);
      
      
      const t=el('text',{x:3335,y:ly+14,'font-size':'40',fill:'#000'},legend);
      
      
      t.textContent=txt;
    });
  }
});

/* ---------- colorbar ---------- */
const cbar=el('g',{},svg);


const cbLeft=3906,cbRight=3996,cbTop=1242.5,cbBottom=2154.5;
const cbY=v=>cbBottom-(v-cmin)/(cmax-cmin)*(cbBottom-cbTop);
const grad=el('linearGradient',{id:'cb-grad',x1:0,y1:1,x2:0,y2:0},defs);
infernoStops.forEach(function(s,i){
  el('stop',{offset:i/(infernoStops.length-1),'stop-color':'rgb('+s.join(',')+')'},grad);
});
const cbBody=el('rect',{x:cbLeft,y:cbTop,width:cbRight-cbLeft,height:cbBottom-cbTop,fill:'url(#cb-grad)'},cbar);


const cbTopCap=el('polygon',{points:cbLeft+','+cbTop+' 3951,1197 '+cbRight+','+cbTop,fill:'rgb(252,255,164)'},cbar);


const cbBotCap=el('polygon',{points:cbLeft+','+cbBottom+' 3951,2201.5 '+cbRight+','+cbBottom,fill:'rgb(0,0,4)'},cbar);


const cbOutline=el('polygon',{points:cbLeft+','+cbTop+' 3951,1197 '+cbRight+','+cbTop+' '+cbRight+','+cbBottom+' 3951,2201.5 '+cbLeft+','+cbBottom,fill:'none',stroke:'#000','stroke-width':'3'},cbar);


colorbarMinorTicks.forEach(function(v){
  const t=el('line',{x1:cbRight,x2:cbRight+8,y1:cbY(v),y2:cbY(v),stroke:'#000','stroke-width':'3'},cbar);
  
  
});
colorbarLabels.forEach(function(v){
  const t=el('line',{x1:cbRight,x2:cbRight+13,y1:cbY(v),y2:cbY(v),stroke:'#000','stroke-width':'3'},cbar);
  
  
  const lab=el('text',{x:4023,y:cbY(v)+15,'font-size':'40',fill:'#000'},cbar);
  
  
  lab.textContent=String(v);
});
const cbTitle=el('text',{x:4154,y:1699,'font-size':'54','text-anchor':'middle',fill:'#000',transform:'rotate(-90 4154 1699)'},cbar);


const t1=el('tspan',{},cbTitle);
t1.textContent='CO';
const t2=el('tspan',{'font-size':'38',dy:'8'},cbTitle);
t2.textContent='2';
const t3=el('tspan',{dy:'-8'},cbTitle);
t3.textContent=' [ppm]';
</script>
</body>
</html>
